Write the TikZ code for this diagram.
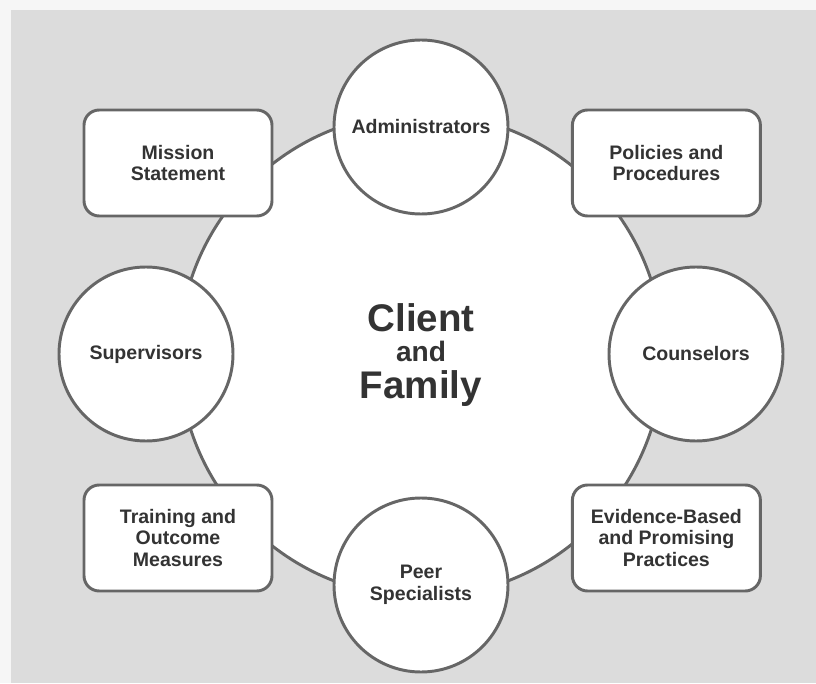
\documentclass[tikz,border=0pt]{standalone}
\usepackage{fontspec}
\setmainfont{Liberation Sans}

\definecolor{pagegray}{HTML}{F6F6F6}
\definecolor{panelgray}{HTML}{DCDCDC}
\definecolor{rimgray}{HTML}{666666}
\definecolor{inkgray}{HTML}{333333}

\tikzset{
  rim/.style={draw=rimgray, line width=2.1pt, fill=white},
  role/.style={rim, circle, minimum size=4.35cm, inner sep=0pt, align=center,
    text=inkgray, font=\bfseries\fontsize{13.9}{15.4}\selectfont},
  item/.style={rim, rectangle, rounded corners=0.38cm, minimum width=4.7cm,
    minimum height=2.65cm, inner sep=0pt, align=center,
    text=inkgray, font=\bfseries\fontsize{13.9}{15.4}\selectfont},
}

\begin{document}
\begin{tikzpicture}
    % page and panel
    \fill[pagegray] (0,0) rectangle (20.4,17.075);
    \fill[panelgray] (0.275,0) rectangle (20.4,16.825);

    % the big circle in the middle
    \node[rim, circle, minimum size=12.1cm, inner sep=0pt, align=center, text=inkgray,
          font=\bfseries\fontsize{27.4}{26.3}\selectfont] (family) at (10.525,8.2)
          {Client\\[-5pt]{\fontsize{20}{21}\selectfont and}\\Family};

    % boxes at the corners
    \foreach \x/\y/\t [count=\i from 1] in {4.45/13.0/Mission\\Statement,
        16.66/13.0/Policies and\\Procedures,
        16.66/3.625/Evidence-Based\\and Promising\\Practices,
        4.45/3.625/Training and\\Outcome\\Measures}
      {\node[item] (b\i) at (\x,\y) {\t};}

    % circles on the rim
    \foreach \x/\y/\t [count=\i from 1] in {10.525/13.9/Administrators,
        17.4/8.225/Counselors,
        10.525/2.45/Peer\\Specialists,
        3.65/8.225/Supervisors}
      {\node[role] (r\i) at (\x,\y) {\t};}
\end{tikzpicture}
\end{document}
